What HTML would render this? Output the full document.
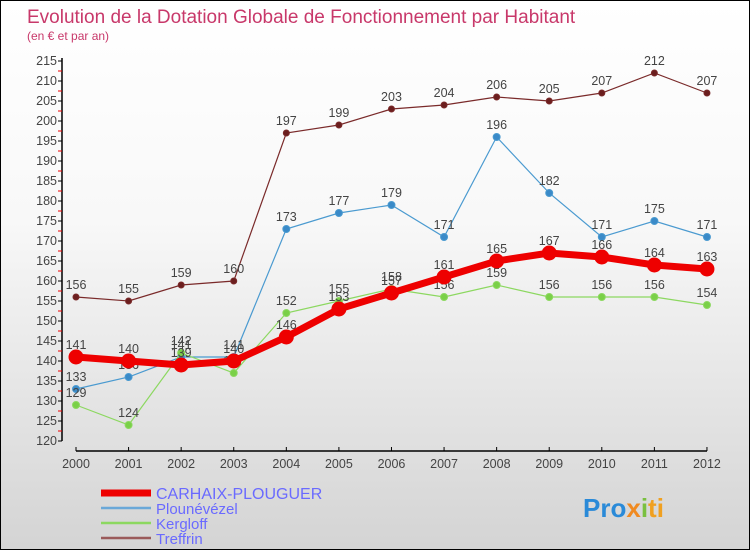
<!DOCTYPE html>
<html><head><meta charset="utf-8"><style>
body{margin:0}
#c{width:750px;height:550px;position:relative;background:linear-gradient(#ffffff,#f8f8f8 40%,#d4d4d4);box-sizing:border-box;border:1px solid #000;font-family:"Liberation Sans",sans-serif;overflow:hidden}
svg{position:absolute;left:0;top:0}
</style></head><body>
<div id="c">
<svg id="s" width="750" height="550">
<text x="26" y="22" font-size="19" fill="#c8386a">Evolution de la Dotation Globale de Fonctionnement par Habitant</text>
<text x="26" y="39" font-size="12" fill="#c8386a">(en € et par an)</text>
</svg>
</div>
<script>
const years=[2000,2001,2002,2003,2004,2005,2006,2007,2008,2009,2010,2011,2012];
const yTicks=[120,125,130,135,140,145,150,155,160,165,170,175,180,185,190,195,200,205,210,215];
const seriesNames=["CARHAIX-PLOUGUER","Plounévézel","Kergloff","Treffrin"];
const treffrin=[156,155,159,160,197,199,203,204,206,205,207,212,207];
const plounevezel=[133,136,141,141,173,177,179,171,196,182,171,175,171];
const kergloff=[129,124,142,137,152,155,158,156,159,156,156,156,154];
const carhaix=[141,140,139,140,146,153,157,161,165,167,166,164,163];
const svg=document.getElementById('s');const NS='http://www.w3.org/2000/svg';
function X(i){return 75+i*52.58;}
function Y(v){return 60+(215-v)*4;}
function el(t,a,p){const e=document.createElementNS(NS,t);for(const k in a)e.setAttribute(k,a[k]);(p||svg).appendChild(e);return e;}
let ax=el('line',{x1:61,y1:57,x2:61,y2:440,stroke:'#000','stroke-width':1.5});


let xa=el('line',{x1:75,y1:450,x2:706,y2:450,stroke:'#000','stroke-width':1.5});


yTicks.forEach(v=>{
 el('line',{x1:57,y1:Y(v),x2:61,y2:Y(v),stroke:'#000'});
 if(v<215) el('line',{x1:57,y1:Y(v+2.5),x2:61,y2:Y(v+2.5),stroke:'#e00'});
 const t=el('text',{x:56,y:Y(v)+4,'font-size':12.5,fill:'#444','text-anchor':'end'});t.textContent=v;
 
 
});
years.forEach((y,i)=>{
 el('line',{x1:X(i),y1:446,x2:X(i),y2:450,stroke:'#000'});
 const t=el('text',{x:X(i),y:467,'font-size':12.5,fill:'#444','text-anchor':'middle'});t.textContent=y;
 
 
});
function series(d,color,dot,w,r,name){
 const g=el('g',{});
 
 
 el('polyline',{points:d.map((v,i)=>X(i)+','+Y(v)).join(' '),fill:'none',stroke:color,'stroke-width':w},g);
 d.forEach((v,i)=>{
  const c=el('circle',{cx:X(i),cy:Y(v),r:r,fill:dot,stroke:color,'stroke-width':1},g);
  
  
  const t=el('text',{x:X(i),y:Y(v)-8,'font-size':12.5,fill:'#444','text-anchor':'middle'},g);t.textContent=v;
 });
}
series(treffrin,'#7a2a2a','#6b1e1e',1.2,3,'series-treffrin');
series(plounevezel,'#4a9ad0','#3a8ac8',1.2,3.5,'series-plounevezel');
series(kergloff,'#8cd860','#7ad048',1.2,3.5,'series-kergloff');
series(carhaix,'#ee0000','#ee0000',7,7,'series-carhaix');
const lc=['#ee0000','#6aa8d8','#8cd860','#9a5a5a'],lw=[7,2.5,2.5,2.5];
seriesNames.forEach((n,i)=>{
 const y=492+i*15;
 const g=el('g',{});
 
 
 el('line',{x1:100,y1:y,x2:150,y2:y,stroke:lc[i],'stroke-width':lw[i]},g);
 const t=el('text',{x:155,y:y+6,'font-size':i==0?16:15,fill:'#6a6aff'},g);t.textContent=n;
});
const p=el('text',{x:582,y:516,'font-size':26,'font-weight':'bold'});


[['Pro','#2a8ad8'],['x','#f08a20'],['i','#7ac040'],['ti','#f0a020']].forEach(([s,c])=>{const ts=el('tspan',{fill:c},p);ts.textContent=s;});
</script>
</body></html>
